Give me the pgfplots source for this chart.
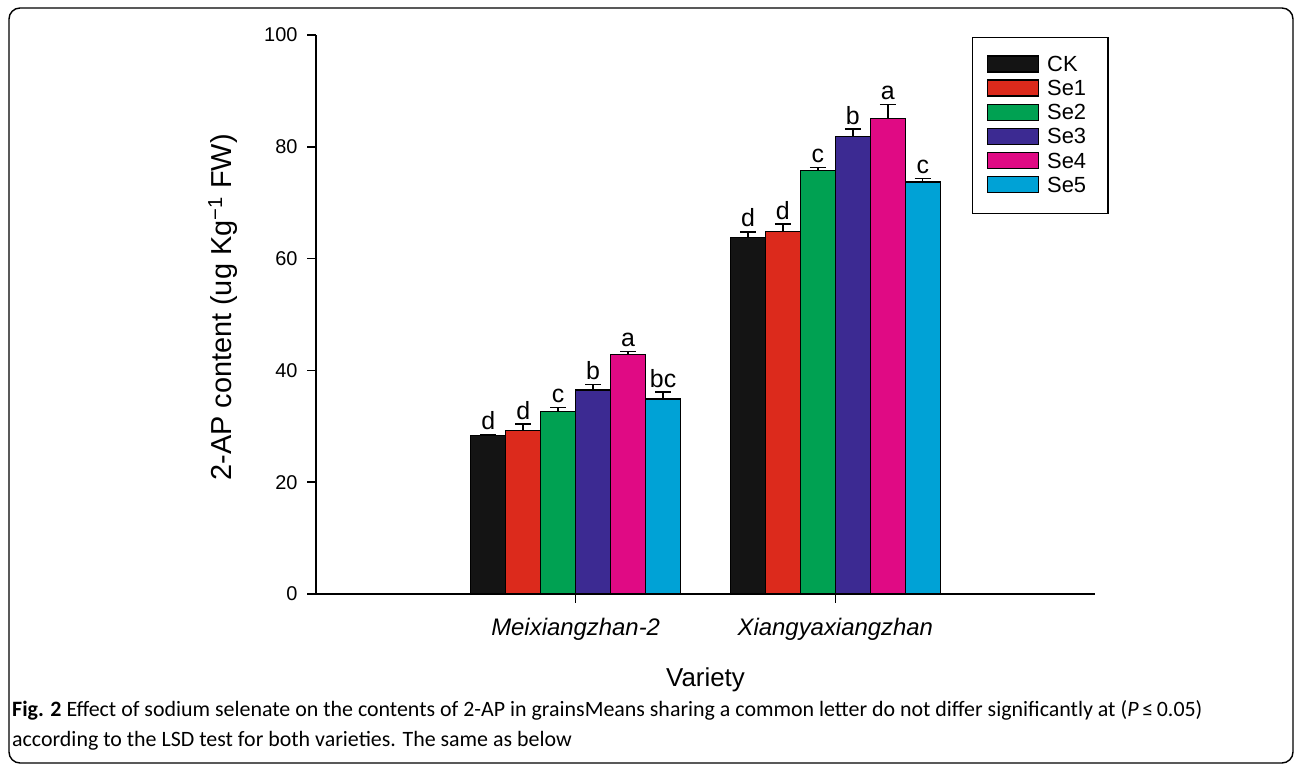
\documentclass[border=0pt]{standalone}
\usepackage{pgfplots}
\pgfplotsset{compat=1.18}
\usepackage{pgfplotstable}
\usepackage{fontspec}
\setmainfont{Liberation Sans}
\newfontfamily\capfont{Carlito}

\definecolor{cCK}{HTML}{141414}
\definecolor{cSeA}{HTML}{DC2A1C}
\definecolor{cSeB}{HTML}{00A152}
\definecolor{cSeC}{HTML}{3C2A92}
\definecolor{cSeD}{HTML}{E00A84}
\definecolor{cSeE}{HTML}{00A2D6}

\pgfplotstableread{
x y e l
1 28.3 0.2 d
2 63.8 1.0 d
}\tCK
\pgfplotstableread{
x y e l
1 29.3 1.1 d
2 64.8 1.4 d
}\tSeA
\pgfplotstableread{
x y e l
1 32.6 0.8 c
2 75.8 0.5 c
}\tSeB
\pgfplotstableread{
x y e l
1 36.5 1.0 b
2 81.8 1.4 b
}\tSeC
\pgfplotstableread{
x y e l
1 42.9 0.5 a
2 85.0 2.6 a
}\tSeD
\pgfplotstableread{
x y e l
1 34.9 1.2 bc
2 73.7 0.6 c
}\tSeE

\pgfplotsset{
  mybar/.style={ybar, bar width=0.134615, bar shift=0pt, fill=#1, draw=black, line width=1.3bp,
    error bars/y dir=plus, error bars/y explicit,
    error bars/error bar style={line width=1.5bp, black},
    error bars/error mark options={rotate=90, mark size=8bp, line width=1.5bp, black}},
}

\begin{document}
\begin{tikzpicture}[x=1bp,y=1bp]
\useasboundingbox (0,0) rectangle (1295,766);
\draw[line width=1.4bp, rounded corners=11bp] (9,3) rectangle (1293,758);
\begin{axis}[
  at={(316bp,172bp)}, anchor=south west,
  scale only axis, width=779bp, height=559bp,
  xmin=0, xmax=3, ymin=0, ymax=100,
  axis x line*=bottom, axis y line*=left,
  axis line style={line width=1.5bp, black},
  every tick/.style={line width=1.5bp, black},
  tick align=outside, major tick length=9bp,
  ytick={0,20,40,60,80,100}, xtick={1,2},
  xticklabels={\textit{Meixiangzhan-2}, \textit{Xiangyaxiangzhan}},
  /pgf/number format/assume math mode=true,
  yticklabel style={font=\fontsize{20}{24}\selectfont, xshift=-6bp},
  xticklabel style={font=\fontsize{24}{28}\selectfont, anchor=base, yshift=-33bp},
  ylabel={2-AP content (ug Kg\textsuperscript{−1} FW)},
  ylabel style={at={(rel axis cs:-0.109,0.5125)}, anchor=base, font=\fontsize{29}{34}\selectfont},
  xlabel={Variety},
  xlabel style={at={(rel axis cs:0.5,-0.1646)}, anchor=base, font=\fontsize{26}{30}\selectfont},
  nodes near coords, point meta=explicit symbolic,
  visualization depends on={\thisrow{e} \as \errv},
  every node near coord/.append style={font=\fontsize{25}{28}\selectfont, anchor=south, inner sep=4bp, yshift=\errv*5.59bp, black},
  legend style={at={(rel axis cs:0.842,0.9964)}, anchor=north west, draw=black, line width=1.5bp,
    inner xsep=14bp, inner ysep=17.5bp, font=\fontsize{22}{24}\selectfont,
    cells={anchor=west}, row sep=3.9bp,
    nodes={inner ysep=0pt, inner xsep=8bp, text height=15bp, text depth=4bp}},
  legend image code/.code={\draw[#1, line width=1.5bp, draw=black] (0bp,-6bp) rectangle (51bp,10bp);},
]
\addplot[mybar=cCK] table[x expr=\thisrow{x}-0.336538, y=y, y error=e, meta=l] {\tCK};
\addplot[mybar=cSeA] table[x expr=\thisrow{x}-0.201923, y=y, y error=e, meta=l] {\tSeA};
\addplot[mybar=cSeB] table[x expr=\thisrow{x}-0.067308, y=y, y error=e, meta=l] {\tSeB};
\addplot[mybar=cSeC] table[x expr=\thisrow{x}+0.067308, y=y, y error=e, meta=l] {\tSeC};
\addplot[mybar=cSeD] table[x expr=\thisrow{x}+0.201923, y=y, y error=e, meta=l] {\tSeD};
\addplot[mybar=cSeE] table[x expr=\thisrow{x}+0.336538, y=y, y error=e, meta=l] {\tSeE};
\legend{CK,Se1,Se2,Se3,Se4,Se5}
\end{axis}
\node[anchor=base west, inner sep=0pt, font=\capfont\fontsize{22}{26}\selectfont] at (12,49)
  {\textbf{Fig. 2} Effect of sodium selenate on the contents of 2-AP in grainsMeans sharing a common letter do not differ significantly at (\textit{P}\,≤\,0.05)};
\node[anchor=base west, inner sep=0pt, font=\capfont\fontsize{22}{26}\selectfont] at (12,19)
  {according to the LSD test for both varieties. The same as below};
\end{tikzpicture}
\end{document}
